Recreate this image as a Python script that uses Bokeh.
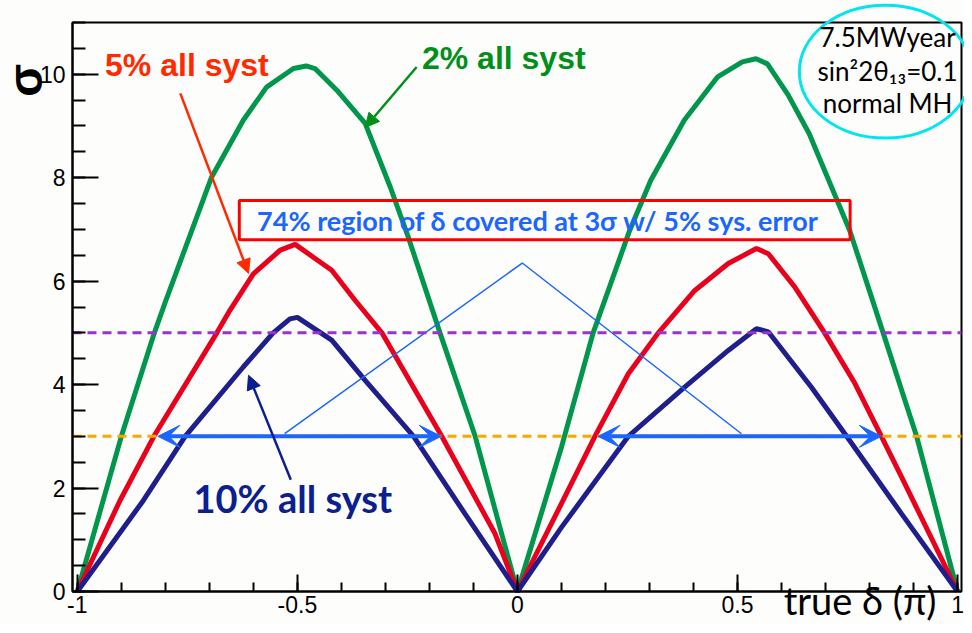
import numpy as np
from bokeh.plotting import figure
from bokeh.models import (SingleIntervalTicker, Arrow, NormalHead, VeeHead,
                          Label, BoxAnnotation)
from bokeh.embed import file_html
from bokeh.resources import INLINE

# ---------------- data ----------------
green_x = [-1.0, -0.9, -0.825, -0.80, -0.695, -0.623, -0.57, -0.509, -0.48, -0.46,
           -0.407, -0.346, -0.289, -0.248, -0.176, -0.096, -0.036, 0.0,
           0.036, 0.1, 0.172, 0.255, 0.303, 0.379, 0.455, 0.511, 0.542, 0.568,
           0.615, 0.663, 0.755, 0.831, 0.873, 0.907, 1.0]
green_y = [0.0, 3.0, 5.0, 5.6, 8.01, 9.11, 9.75, 10.11, 10.16, 10.11,
           9.66, 9.05, 7.82, 6.85, 5.0, 3.0, 1.12, 0.0,
           1.0, 2.79, 5.0, 6.98, 7.95, 9.11, 9.95, 10.24, 10.30, 10.2,
           9.6, 8.85, 6.98, 5.0, 3.89, 3.0, 0.0]

red_x = [-1.0, -0.903, -0.826, -0.683, -0.653, -0.6, -0.539, -0.505, -0.422, -0.369,
         -0.308, -0.172, -0.051, 0.0,
         0.1, 0.176, 0.252, 0.320, 0.403, 0.479, 0.543, 0.570, 0.630, 0.698, 0.767,
         0.827, 0.873, 1.0]
red_y = [0.0, 1.76, 3.0, 5.0, 5.44, 6.14, 6.6, 6.71, 6.21, 5.63,
         5.0, 3.0, 1.12, 0.0,
         1.70, 3.0, 4.21, 5.0, 5.82, 6.34, 6.63, 6.53, 5.89, 5.0, 4.02,
         3.0, 2.21, 0.0]

navy_x = [-1.0, -0.85, -0.755, -0.623, -0.555, -0.517, -0.5, -0.422, -0.346, -0.236,
          -0.119, 0.0,
          0.1, 0.252, 0.380, 0.479, 0.543, 0.570, 0.668, 0.748, 0.873, 1.0]
navy_y = [0.0, 1.76, 3.0, 4.34, 5.0, 5.27, 5.3, 4.86, 4.08, 3.0,
          1.5, 0.0,
          1.24, 3.0, 3.95, 4.66, 5.08, 5.02, 3.95, 3.0, 1.5, 0.0]

x_tick_vals = [-1.0, -0.5, 0.0, 0.5, 1.0]
x_tick_labels = ["-1", "-0.5", "0", "0.5", "1"]

sigma3 = 3.0
sigma5 = 5.0

# coverage arrows at 3 sigma (5% syst.)
cover_left = [-0.817, -0.173]
cover_right = [0.183, 0.827]

# thin guide line from the arrows to the note box
guide_x = [-0.529, 0.011, 0.509]
guide_y = [3.05, 6.35, 3.05]

# annotation arrows (start, end)
red_arrow = [(-0.766, 9.63), (-0.611, 6.15)]
green_arrow = [(-0.229, 10.14), (-0.346, 8.97)]
navy_arrow = [(-0.515, 2.16), (-0.611, 4.18)]

note_box = dict(left=-0.632, right=0.756, bottom=6.80, top=7.557)
note_text_x = 0.046

ell_x, ell_y, ell_w, ell_h = 0.836, 10.05, 0.391, 2.57

# ---------------- colours ----------------
C_GREEN = "#00964B"
C_GREEN_T = "#00901A"
C_RED = "#E8001C"
C_RED_T = "#FF2A00"
C_NAVY = "#1F1F8C"
C_NAVY_T = "#0A2090"
C_BLUE = "#1A66FF"
C_PURPLE = "#9933CC"
C_ORANGE = "#FFA500"
C_CYAN = "#00E5EE"
BG = "#FDFDFC"

TICK_FONT = "Liberation Sans"
GILL = "Lato"

# ---------------- layout: the frame covers the whole canvas ----------------
W, H = 964, 625
M_LEFT, M_RIGHT, M_TOP, M_BOTTOM = 72, 3, 22, 34
box_x = (-1.011, 1.009)
box_y = (0.0, 11.0)
ppx = (W - M_LEFT - M_RIGHT) / (box_x[1] - box_x[0])
ppy = (H - M_TOP - M_BOTTOM) / (box_y[1] - box_y[0])
x_range = (box_x[0] - M_LEFT / ppx, box_x[1] + M_RIGHT / ppx)
y_range = (box_y[0] - M_BOTTOM / ppy, box_y[1] + M_TOP / ppy)

p = figure(width=W, height=H, x_range=x_range, y_range=y_range,
           output_backend="svg", toolbar_location=None, min_border=0)
p.xgrid.visible = False
p.ygrid.visible = False
p.outline_line_color = None
p.background_fill_color = BG
p.border_fill_color = BG

p.xaxis.ticker = SingleIntervalTicker(interval=0.5, num_minor_ticks=5)
p.yaxis.ticker = SingleIntervalTicker(interval=2, num_minor_ticks=4)
p.xaxis.major_label_overrides = dict(zip(x_tick_vals, x_tick_labels))
p.xaxis.fixed_location = box_y[0]
p.yaxis.fixed_location = box_x[0]
p.xaxis.bounds = box_x
p.yaxis.bounds = box_y

for ax in (p.xaxis[0], p.yaxis[0]):
    ax.axis_line_width = 2
    ax.axis_line_color = "black"
    ax.major_tick_out = 0
    ax.minor_tick_out = 0
    ax.major_tick_line_width = 2
    ax.minor_tick_line_width = 2
    ax.major_tick_line_color = "black"
    ax.minor_tick_line_color = "black"
    ax.major_label_text_font = TICK_FONT
    ax.major_label_text_font_size = "23px"
    ax.major_label_text_color = "black"
p.xaxis.major_tick_in = 17
p.xaxis.minor_tick_in = 9
p.yaxis.major_tick_in = 26
p.yaxis.minor_tick_in = 13
p.xaxis.major_label_standoff = 4
p.yaxis.major_label_standoff = 7

# frame box (ROOT style)
p.add_layout(BoxAnnotation(left=box_x[0], right=box_x[1], bottom=box_y[0], top=box_y[1],
                           fill_alpha=0, line_color="black", line_width=2, line_alpha=1,
                           level="underlay"))

# curves
p.line(green_x, green_y, line_color=C_GREEN, line_width=5)
p.line(red_x, red_y, line_color=C_RED, line_width=5)
p.line(navy_x, navy_y, line_color=C_NAVY, line_width=5)

# thin guide
p.line(guide_x, guide_y, line_color=C_BLUE, line_width=1.5)

# coverage arrows
for seg in (cover_left, cover_right):
    p.add_layout(Arrow(x_start=seg[0], y_start=sigma3, x_end=seg[1], y_end=sigma3,
                       line_color=C_BLUE, line_width=4,
                       start=VeeHead(size=22, fill_color=C_BLUE, line_color=C_BLUE, line_width=1),
                       end=VeeHead(size=22, fill_color=C_BLUE, line_color=C_BLUE, line_width=1)))

# dashed levels (inside the frame box only)
p.segment(x0=[box_x[0]], x1=[box_x[1]], y0=[sigma5], y1=[sigma5],
          line_color=C_PURPLE, line_width=3, line_dash="9 6")
p.segment(x0=[box_x[0]], x1=[box_x[1]], y0=[sigma3], y1=[sigma3],
          line_color=C_ORANGE, line_width=3, line_dash="9 6")

# annotation arrows
for (s, e), col in ((red_arrow, C_RED_T), (green_arrow, C_GREEN_T), (navy_arrow, C_NAVY_T)):
    p.add_layout(Arrow(x_start=s[0], y_start=s[1], x_end=e[0], y_end=e[1],
                       line_color=col, line_width=2.5,
                       end=NormalHead(size=14, fill_color=col, line_color=col, line_width=1)))

# note box
p.add_layout(BoxAnnotation(fill_alpha=0, line_color="#FF0000", line_width=3, line_alpha=1,
                           **note_box))
p.add_layout(Label(x=note_text_x,
                   y=(note_box["bottom"] + note_box["top"]) / 2,
                   text="74% region of δ covered at 3σ w/ 5% sys. error",
                   text_align="center", text_baseline="middle",
                   text_font=GILL, text_font_style="bold",
                   text_font_size="27px", text_color=C_BLUE))

# curve labels
p.add_layout(Label(x=-0.937, y=9.83, text="5% all syst", text_font="Liberation Sans",
                   text_font_style="bold", text_font_size="32px", text_color=C_RED_T))
p.add_layout(Label(x=-0.217, y=9.96, text="2% all syst", text_font="Liberation Sans",
                   text_font_style="bold", text_font_size="32px", text_color=C_GREEN_T))
p.add_layout(Label(x=-0.736, y=1.37, text="10% all syst", text_font=GILL,
                   text_font_style="bold", text_font_size="38px", text_color=C_NAVY_T))

# info ellipse
p.ellipse(x=[ell_x], y=[ell_y], width=ell_w, height=ell_h, fill_alpha=0,
          line_color=C_CYAN, line_width=3)
for txt, yy in (("7.5MWyear", 10.41), ("sin²2θ₁₃=0.1", 9.75), ("normal MH", 9.13)):
    p.add_layout(Label(x=0.841, y=yy, text=txt, text_align="center",
                       text_font=GILL, text_font_size="26px", text_color="black"))

# axis titles
p.add_layout(Label(x=-1.118, y=9.88, text="σ", angle=np.pi / 2, text_align="center",
                   text_baseline="middle", text_font="Liberation Sans",
                   text_font_style="bold", text_font_size="48px", text_color="black"))
p.add_layout(Label(x=0.952, y=-0.6, text="true δ (π)", text_align="right",
                   text_font=GILL, text_font_size="38px", text_color="black"))

open("out.html", "w").write(file_html(p, INLINE))
